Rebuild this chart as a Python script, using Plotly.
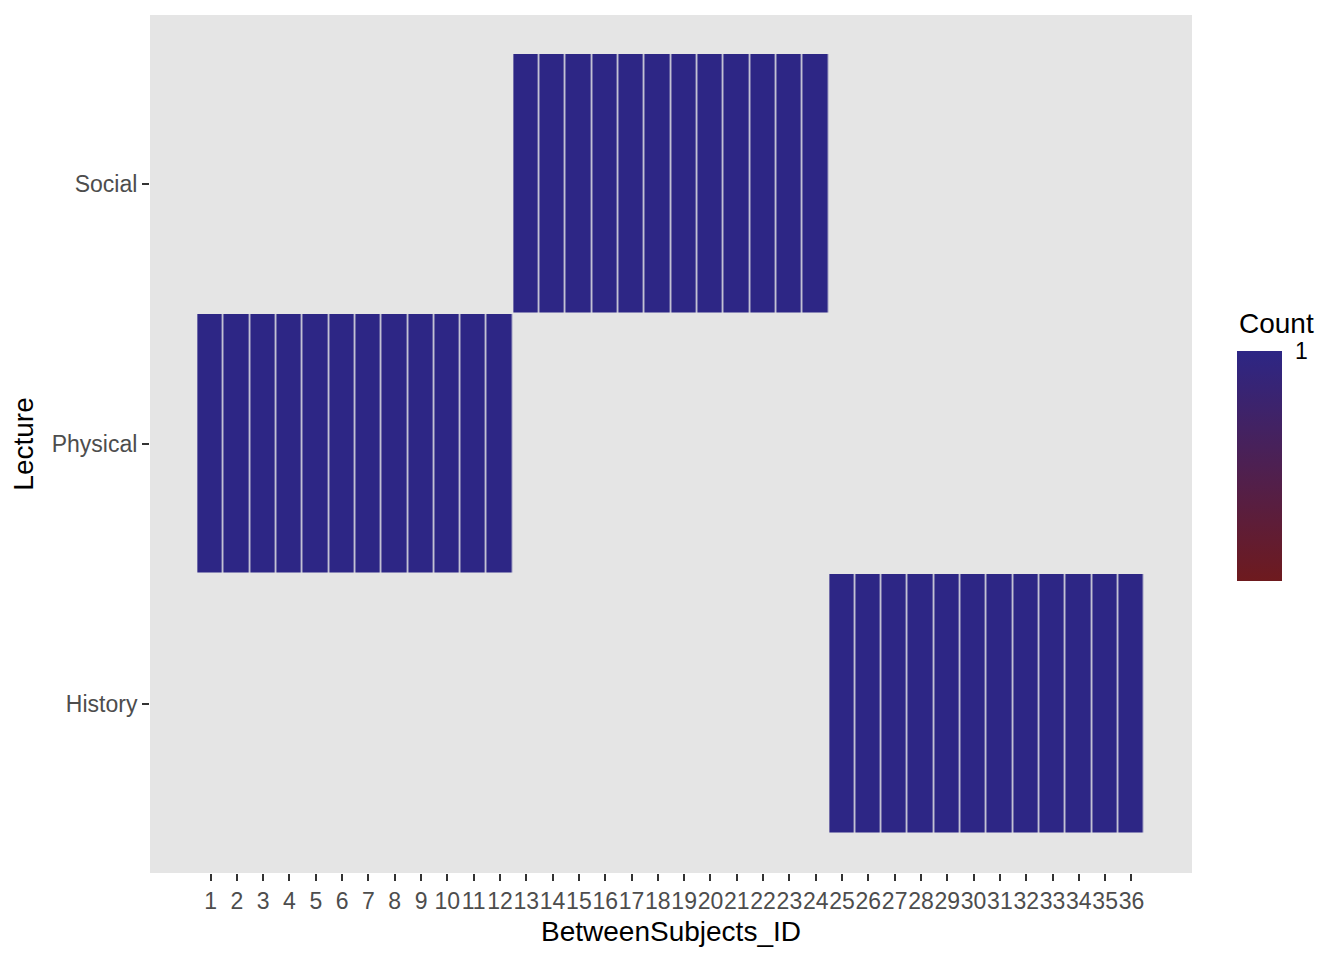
import plotly.graph_objects as go

# Data
subject_ids = list(range(1, 37))
lecture_names = ["History", "Physical", "Social"]
lecture_of_subject = (["Physical"] * 12) + (["Social"] * 12) + (["History"] * 12)
counts = [1] * 36

y_pos = [lecture_names.index(l) + 1 for l in lecture_of_subject]

low_col = "#6E1A1E"
high_col = "#2D2685"

fig = go.Figure()
fig.add_trace(go.Heatmap(
    x=subject_ids,
    y=y_pos,
    z=counts,
    zmin=0, zmax=1,
    colorscale=[[0, low_col], [1, high_col]],
    xgap=1.5, ygap=1.5,
    hoverinfo="x+y+z",
    colorbar=dict(
        tickvals=[1], ticktext=["1"],
        tickfont=dict(size=23, color="black"),
        ticks="outside", ticklen=9, tickcolor="rgba(0,0,0,0)", tickwidth=1,
        thickness=45, thicknessmode="pixels",
        len=230, lenmode="pixels",
        x=1.0432, xanchor="left", xpad=0,
        y=0.474, yanchor="middle", ypad=0,
        outlinewidth=0,
    ),
))

font_family = "Liberation Sans, Arial, Helvetica, sans-serif"

fig.add_annotation(
    text="Count", xref="paper", yref="paper",
    x=1.0432, y=0.640, xanchor="left", yanchor="middle",
    showarrow=False, font=dict(size=28, color="black"),
)

fig.update_layout(
    width=1344, height=960,
    margin=dict(l=142, r=160, t=7, b=95),
    paper_bgcolor="white",
    plot_bgcolor="#E5E5E5",
    font=dict(family=font_family, color="black"),
    xaxis=dict(
        range=[-1.3, 38.3],
        tickmode="array", tickvals=subject_ids, ticktext=[str(i) for i in subject_ids],
        tickfont=dict(size=23, color="#4D4D4D"),
        ticks="outside", ticklen=7, tickwidth=2, tickcolor="#333333",
        showgrid=False, zeroline=False, showline=False,
        title=dict(text="BetweenSubjects_ID", font=dict(size=28, color="black"), standoff=8),
        tickangle=0,
    ),
    yaxis=dict(
        range=[0.35, 3.65],
        tickmode="array", tickvals=[1, 2, 3], ticktext=lecture_names,
        tickfont=dict(size=23, color="#4D4D4D"),
        ticks="outside", ticklen=7, tickwidth=2, tickcolor="#333333",
        showgrid=False, zeroline=False, showline=False,
        title=dict(text="Lecture", font=dict(size=28, color="black"), standoff=13),
    ),
)

fig.write_html("out.html")
